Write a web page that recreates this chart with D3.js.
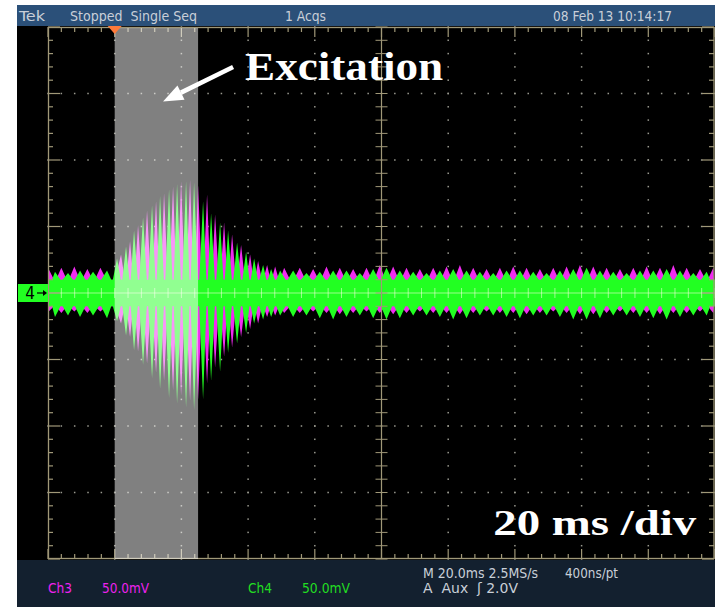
<!DOCTYPE html>
<html><head><meta charset="utf-8">
<script src="https://cdn.jsdelivr.net/npm/d3@7"></script>
<style>html,body{margin:0;padding:0;background:#fff;}svg{display:block;}</style>
</head><body>
<svg id="c" width="715" height="607"></svg>
<script>
// ================= DATA =================
const timeDomainMs = [0, 200];      // 10 div x 20 ms
const voltDomainMv = [-200, 200];   // 8 div x 50 mV
const excitationMs = [20, 45];
const triggerMs = 20;
const noiseFloorMv = 10;

// Ch4 (green) : peak times (ms), upper / lower peak values (mV)
const ch4Times = [2.1, 6.0, 9.6, 13.5, 17.7,
  20.7, 23.4, 25.8, 28.5, 31.2, 33.6, 36.3, 38.7, 41.4, 43.8, 46.5, 48.9, 51.6, 54.0, 56.7, 59.4, 61.8, 64.5, 66.9, 69.6,
  73.5, 77.5, 81.5, 85.5, 89.5, 93.5, 97.5, 101.5, 105.5, 109.5, 113.5, 117.5, 121.5, 125.5, 129.5, 133.5,
  137.5, 141.5, 145.5, 149.5, 153.5, 157.5, 161.5, 165.5, 169.5, 173.5, 177.5, 181.5, 185.5, 189.5, 193.5, 197.5];
const ch4Upper = [16, 15, 17, 16, 17,
  26, 35, 47, 57, 66, 73, 78, 82, 84, 83, 69, 60, 53, 47, 38, 31, 26, 21, 18, 17,
  17, 15, 16, 17, 17, 15, 18, 19, 17, 16, 15, 17, 18, 17, 16, 15,
  17, 17, 16, 15, 17, 18, 19, 17, 16, 15, 17, 17, 18, 17, 15, 16];
const ch4Lower = [-18, -17, -18, -17, -19,
  -21, -32, -43, -54, -64, -72, -79, -83, -86, -88, -80, -66, -59, -45, -38, -30, -23, -20, -18, -17,
  -18, -17, -19, -20, -18, -17, -19, -20, -19, -17, -17, -18, -20, -19, -17, -17,
  -18, -19, -17, -17, -18, -20, -20, -19, -17, -17, -18, -19, -20, -18, -17, -17];

// Ch3 (magenta)
const ch3Times = [0.2, 4.0, 7.9, 11.8, 15.7,
  21.9, 24.6, 27.0, 29.7, 32.4, 34.8, 37.5, 39.9, 42.6, 45.0, 47.7, 50.1, 52.8, 55.2, 57.9, 60.6, 63.0, 65.7, 68.1, 70.8,
  75.5, 79.5, 83.5, 87.5, 91.5, 95.5, 99.5, 103.5, 107.5, 111.5, 115.5, 119.5, 123.5, 127.5, 131.5, 135.5,
  139.5, 143.5, 147.5, 151.5, 155.5, 159.5, 163.5, 167.5, 171.5, 175.5, 179.5, 183.5, 187.5, 191.5, 195.5, 199.5];
const ch3Upper = [18, 19, 20, 18, 19,
  29, 39, 51, 62, 69, 75, 80, 84, 85, 81, 74, 59, 53, 44, 36, 29, 24, 21, 20, 19,
  19, 18, 20, 19, 18, 19, 21, 20, 19, 18, 19, 20, 21, 19, 18, 19,
  20, 19, 18, 19, 20, 21, 20, 19, 18, 19, 20, 19, 21, 19, 18, 19];
const ch3Lower = [-14, -15, -14, -15, -14,
  -23, -33, -44, -53, -60, -66, -73, -77, -81, -80, -68, -56, -48, -41, -33, -27, -23, -18, -17, -15,
  -15, -14, -15, -16, -15, -14, -15, -16, -15, -14, -15, -15, -16, -15, -14, -15,
  -15, -16, -15, -14, -15, -16, -16, -15, -14, -15, -15, -16, -15, -15, -14, -15];

const headerLabels = ["Tek", "Stopped  Single Seq", "1 Acqs", "08 Feb 13 10:14:17"];
const footerLabels = ["Ch3", "50.0mV", "Ch4", "50.0mV", "M 20.0ms 2.5MS/s", "400ns/pt", "A  Aux  \u0283 2.0V"];
const channelMarker = "4";
const annotationText = "Excitation";
const scaleText = "20 ms /div";
const arrowFromTo = [[55.5, 170], [34.5, 144]];   // (ms, mV)
const annotationAt = [59.1, 160];
const scaleTextAt = [133.5, -182];

// ================= LAYOUT / STYLE =================
const W = 715, H = 607;
const plot = {left: 48, right: 715, top: 27, bottom: 559};
const hDivs = 10, vDivs = 8, minor = 5;
const C = {
  header: "#2b5079", footer: "#13202f", frame: "#a09878", dots: "#9a9a90",
  green: "#22ff22", magenta: "#f02cf0", hdrText: "#c9cfd8",
  orange: "#ff7a3a"
};
const svg = d3.select("#c");
const x = d3.scaleLinear().domain(timeDomainMs).range([plot.left, plot.right]);
const y = d3.scaleLinear().domain(voltDomainMv).range([plot.bottom, plot.top]);

// backgrounds
svg.append("rect").attr("x", 0).attr("y", 0).attr("width", W).attr("height", H).attr("fill", "#fff");
svg.append("rect").attr("x", 17).attr("y", 5).attr("width", W - 17).attr("height", 21).attr("fill", C.header);
svg.append("rect").attr("x", 17).attr("y", 26).attr("width", W - 17).attr("height", 534).attr("fill", "#000");
svg.append("rect").attr("x", 17).attr("y", 560).attr("width", W - 17).attr("height", 47).attr("fill", C.footer);

const tStep = (timeDomainMs[1] - timeDomainMs[0]) / hDivs;
const vStep = (voltDomainMv[1] - voltDomainMv[0]) / vDivs;
const tMinor = d3.range(0, hDivs * minor + 1).map(i => timeDomainMs[0] + i * tStep / minor);
const vMinor = d3.range(0, vDivs * minor + 1).map(i => voltDomainMv[0] + i * vStep / minor);
const tMajor = d3.range(1, hDivs).map(i => timeDomainMs[0] + i * tStep);
const vMajor = d3.range(1, vDivs).map(i => voltDomainMv[0] + i * vStep);
const tCenter = (timeDomainMs[0] + timeDomainMs[1]) / 2;
const vCenter = (voltDomainMv[0] + voltDomainMv[1]) / 2;

// dotted graticule
const dots = [];
tMajor.filter(t => t !== tCenter).forEach(t => vMinor.forEach(v => dots.push([t, v])));
vMajor.filter(v => v !== vCenter).forEach(v => tMinor.forEach(t => dots.push([t, v])));
svg.append("g").selectAll("rect").data(dots).join("rect")
  .attr("x", d => x(d[0]) - 0.75).attr("y", d => y(d[1]) - 0.75)
  .attr("width", 1.5).attr("height", 1.5).attr("fill", C.dots);

// signals
function band(times, up, lo) {
  const pts = [{t: timeDomainMs[0], hi: noiseFloorMv, lo: -noiseFloorMv}];
  times.forEach((t, i) => {
    const prev = i > 0 ? times[i - 1] : timeDomainMs[0];
    const next = i < times.length - 1 ? times[i + 1] : timeDomainMs[1];
    const wl = Math.min((t - prev) * 0.42, 1.8), wr = Math.min((next - t) * 0.42, 1.8);
    pts.push({t: Math.max(t - wl, timeDomainMs[0]), hi: noiseFloorMv, lo: -noiseFloorMv});
    pts.push({t: t, hi: up[i], lo: lo[i]});
    pts.push({t: Math.min(t + wr, timeDomainMs[1]), hi: noiseFloorMv, lo: -noiseFloorMv});
  });
  pts.push({t: timeDomainMs[1], hi: noiseFloorMv, lo: -noiseFloorMv});
  return pts;
}
const area = d3.area().x(d => x(d.t)).y0(d => y(d.lo)).y1(d => y(d.hi));
svg.append("path").datum(band(ch3Times, ch3Upper, ch3Lower)).attr("d", area).attr("fill", C.magenta);
svg.append("path").datum(band(ch4Times, ch4Upper, ch4Lower)).attr("d", area).attr("fill", C.green);

// center horizontal line with ticks
svg.append("line").attr("x1", x(timeDomainMs[0])).attr("x2", x(timeDomainMs[1]))
  .attr("y1", y(vCenter)).attr("y2", y(vCenter))
  .attr("stroke", "rgba(255,255,230,0.55)").attr("stroke-width", 1.2);
svg.append("g").selectAll("line").data(tMinor).join("line")
  .attr("x1", d => x(d)).attr("x2", d => x(d))
  .attr("y1", y(vCenter) - 5).attr("y2", y(vCenter) + 5)
  .attr("stroke", "rgba(255,255,230,0.55)").attr("stroke-width", 1);
// center vertical line with ticks
svg.append("line").attr("x1", x(tCenter)).attr("x2", x(tCenter))
  .attr("y1", plot.top).attr("y2", plot.bottom).attr("stroke", C.frame).attr("stroke-width", 1.2);
svg.append("g").selectAll("line").data(vMinor).join("line")
  .attr("x1", x(tCenter) - 6).attr("x2", x(tCenter) + 6)
  .attr("y1", d => y(d)).attr("y2", d => y(d)).attr("stroke", C.frame).attr("stroke-width", 1);

// frame + border ticks
svg.append("rect").attr("x", plot.left + 0.5).attr("y", plot.top + 0.5)
  .attr("width", plot.right - plot.left - 1.5).attr("height", plot.bottom - plot.top - 1)
  .attr("fill", "none").attr("stroke", C.frame).attr("stroke-width", 1.3);
const isMajorT = t => Math.abs((t - timeDomainMs[0]) / tStep - Math.round((t - timeDomainMs[0]) / tStep)) < 1e-6;
const isMajorV = v => Math.abs((v - voltDomainMv[0]) / vStep - Math.round((v - voltDomainMv[0]) / vStep)) < 1e-6;
const bt = svg.append("g").attr("stroke", C.frame).attr("stroke-width", 1.2);
bt.selectAll(".tt").data(tMinor).join("line").attr("class", "tt")
  .attr("x1", d => x(d)).attr("x2", d => x(d)).attr("y1", plot.top).attr("y2", d => plot.top + (isMajorT(d) ? 10 : 5));
bt.selectAll(".tb").data(tMinor).join("line").attr("class", "tb")
  .attr("x1", d => x(d)).attr("x2", d => x(d)).attr("y1", plot.bottom).attr("y2", d => plot.bottom - (isMajorT(d) ? 10 : 5));
bt.selectAll(".vl").data(vMinor).join("line").attr("class", "vl")
  .attr("x1", plot.left).attr("x2", d => plot.left + (isMajorV(d) ? 12 : 5)).attr("y1", d => y(d)).attr("y2", d => y(d));
bt.selectAll(".vr").data(vMinor).join("line").attr("class", "vr")
  .attr("x1", plot.right - 1).attr("x2", d => plot.right - 1 - (isMajorV(d) ? 12 : 5)).attr("y1", d => y(d)).attr("y2", d => y(d));

// excitation shading
svg.append("rect").attr("x", x(excitationMs[0])).attr("y", plot.top + 1)
  .attr("width", x(excitationMs[1]) - x(excitationMs[0])).attr("height", plot.bottom - plot.top - 1)
  .attr("fill", "#fff").attr("opacity", 0.5);

// trigger marker
const tx = x(triggerMs);
svg.append("path").attr("d", `M${tx - 7},${plot.top - 1}L${tx + 7},${plot.top - 1}L${tx},${plot.top + 7}Z`).attr("fill", C.orange);

// channel 4 marker
svg.append("rect").attr("x", 18).attr("y", y(vCenter) - 9).attr("width", 30).attr("height", 18).attr("fill", C.green);
svg.append("text").attr("x", 30).attr("y", y(vCenter) + 6).attr("text-anchor", "middle")
  .attr("font-family", "Liberation Sans Narrow, DejaVu Sans Condensed, sans-serif").attr("font-size", 17).attr("fill", "#000").text(channelMarker);
svg.append("line").attr("x1", 37).attr("x2", 45).attr("y1", y(vCenter)).attr("y2", y(vCenter)).attr("stroke", "#000").attr("stroke-width", 1.2);
svg.append("path").attr("d", `M47,${y(vCenter)}L43,${y(vCenter) - 3}L43,${y(vCenter) + 3}Z`).attr("fill", "#000");

// header / footer texts
const uiFont = "Liberation Sans Narrow, DejaVu Sans Condensed, Arial Narrow, sans-serif";
const hdrPos = [[19, 26], [70, 127], [285, 41], [553, 119]];
headerLabels.forEach((s, i) => {
  svg.append("text").attr("x", hdrPos[i][0]).attr("y", 21).attr("font-family", uiFont).attr("font-size", 14)
    .attr("fill", C.hdrText).style("white-space", "pre")
    .attr("textLength", hdrPos[i][1]).attr("lengthAdjust", "spacingAndGlyphs").text(s);
});
const ftr = [[48, 593, 24, "#ee22ee"], [102, 593, 47, "#ee22ee"], [248, 593, 24, "#22dd22"], [302, 593, 48, "#22dd22"],
  [423, 578, 115, C.hdrText], [565, 578, 53, C.hdrText], [423, 593, 95, C.hdrText]];
footerLabels.forEach((s, i) => {
  svg.append("text").attr("x", ftr[i][0]).attr("y", ftr[i][1]).attr("font-family", uiFont).attr("font-size", 14)
    .attr("fill", ftr[i][3]).style("white-space", "pre")
    .attr("textLength", ftr[i][2]).attr("lengthAdjust", "spacingAndGlyphs").text(s);
});

// annotations
const a0 = [x(arrowFromTo[0][0]), y(arrowFromTo[0][1])], a1 = [x(arrowFromTo[1][0]), y(arrowFromTo[1][1])];
const ang = Math.atan2(a1[1] - a0[1], a1[0] - a0[0]);
const hl = 20, hw = 8;
const base = [a1[0] - hl * Math.cos(ang), a1[1] - hl * Math.sin(ang)];
svg.append("line").attr("x1", a0[0]).attr("y1", a0[1]).attr("x2", base[0]).attr("y2", base[1])
  .attr("stroke", "#fff").attr("stroke-width", 4.5);
svg.append("path").attr("d", `M${a1[0]},${a1[1]}L${base[0] + hw * Math.sin(ang)},${base[1] - hw * Math.cos(ang)}L${base[0] - hw * Math.sin(ang)},${base[1] + hw * Math.cos(ang)}Z`)
  .attr("fill", "#fff");
svg.append("text").attr("x", x(annotationAt[0])).attr("y", y(annotationAt[1]))
  .attr("font-family", "Liberation Serif, DejaVu Serif, serif").attr("font-weight", "bold").attr("font-size", 40)
  .attr("fill", "#fff").attr("textLength", 198).attr("lengthAdjust", "spacingAndGlyphs").text(annotationText);
svg.append("text").attr("x", x(scaleTextAt[0])).attr("y", y(scaleTextAt[1]))
  .attr("font-family", "Liberation Serif, DejaVu Serif, serif").attr("font-weight", "bold").attr("font-size", 35)
  .attr("fill", "#fff").attr("textLength", 203).attr("lengthAdjust", "spacingAndGlyphs").style("white-space", "pre").text(scaleText);
</script>
</body></html>
